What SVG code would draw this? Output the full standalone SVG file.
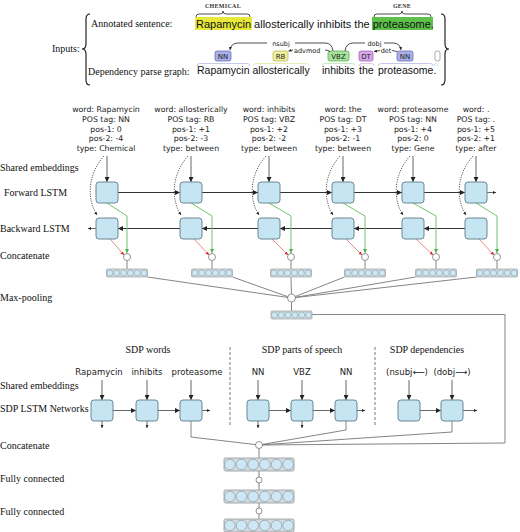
<svg xmlns="http://www.w3.org/2000/svg" xmlns:xlink="http://www.w3.org/1999/xlink" width="520" height="532" viewBox="0 0 520 532">
<style>
.lbl{font-family:"Liberation Serif","DejaVu Serif",serif;font-size:10px;fill:#111}
.feat{font-family:"DejaVu Sans",sans-serif;font-size:7.8px;fill:#222;text-anchor:middle}
.sent{font-family:"Liberation Sans",Arial,sans-serif;font-size:11px;fill:#111}
.arc{font-family:"DejaVu Sans",sans-serif;font-size:6.5px;fill:#222}
.tag{font-family:"DejaVu Sans",sans-serif;font-size:7px;fill:#222;text-anchor:middle}
.ent{font-family:"Liberation Serif",serif;font-size:6px;font-weight:bold;fill:#333;text-anchor:middle;letter-spacing:0.3px}
.sdpw{font-family:"DejaVu Sans",sans-serif;font-size:8.5px;fill:#222;text-anchor:middle}
.box{fill:#c4e5f1;stroke:#6b8794;stroke-width:1}
.ln{stroke:#333;stroke-width:1.2;fill:none}
.thin{stroke:#555;stroke-width:0.9;fill:none}
.gl{stroke:#777;stroke-width:0.9;fill:none}
.dot{stroke:#333;stroke-width:0.8;fill:none;stroke-dasharray:1.2 1.2}
.gr{stroke:#6cc46c;stroke-width:1;fill:none}
.rd{stroke:#e0706a;stroke-width:0.8;fill:none}
.cc{fill:#fff;stroke:#777;stroke-width:0.8}
.brace{stroke:#111;stroke-width:1.1;fill:none}
.sep{stroke:#555;stroke-width:0.8;stroke-dasharray:3 2;fill:none}
.arcl{stroke:#222;stroke-width:0.8;fill:none}
</style>
<defs>
<marker id="ab" viewBox="0 0 8 8" refX="8" refY="4" markerWidth="5" markerHeight="5" markerUnits="userSpaceOnUse" orient="auto"><path d="M0,0 L8,4 L0,8 z" fill="#222"/></marker>
<marker id="as" viewBox="0 0 8 8" refX="8" refY="4" markerWidth="3" markerHeight="3" markerUnits="userSpaceOnUse" orient="auto"><path d="M0,0 L8,4 L0,8 z" fill="#222"/></marker>
<marker id="ag" viewBox="0 0 8 8" refX="8" refY="4" markerWidth="4.5" markerHeight="4.5" markerUnits="userSpaceOnUse" orient="auto"><path d="M0,0 L8,4 L0,8 z" fill="#4caf4c"/></marker>
<marker id="ar" viewBox="0 0 8 8" refX="8" refY="4" markerWidth="3.5" markerHeight="3.5" markerUnits="userSpaceOnUse" orient="auto"><path d="M0,0 L8,4 L0,8 z" fill="#d42a2a"/></marker>
<g id="vs"><rect x="0" y="0" width="41" height="8" rx="1" fill="#d6dadc" stroke="#9aa4a8" stroke-width="0.7"/><g fill="#cde8f4" stroke="#8fa3ad" stroke-width="0.6"><circle cx="3.42" cy="4" r="3"/><circle cx="10.25" cy="4" r="3"/><circle cx="17.08" cy="4" r="3"/><circle cx="23.92" cy="4" r="3"/><circle cx="30.75" cy="4" r="3"/><circle cx="37.58" cy="4" r="3"/></g></g>
<g id="vl"><rect x="0" y="0" width="70" height="13" rx="1.5" fill="#d6dadc" stroke="#8f9a9e" stroke-width="0.8"/><g fill="#cde8f4" stroke="#8a9aa3" stroke-width="0.7"><circle cx="5.83" cy="6.5" r="5.3"/><circle cx="17.5" cy="6.5" r="5.3"/><circle cx="29.17" cy="6.5" r="5.3"/><circle cx="40.83" cy="6.5" r="5.3"/><circle cx="52.5" cy="6.5" r="5.3"/><circle cx="64.17" cy="6.5" r="5.3"/></g></g>
</defs>

<g id="inputs">
<text class="lbl" x="52" y="52">Inputs:</text>
<path class="brace" d="M90,14 Q86,14 86,19 L86,44 Q86,49 82,49 Q86,49 86,54 L86,80 Q86,85 90,85"/>
<path class="brace" d="M441,14 Q445,14 445,19 L445,44 Q445,49 449,49 Q445,49 445,54 L445,80 Q445,85 441,85"/>
<text class="lbl" x="91" y="27">Annotated sentence:</text>
<text class="lbl" x="88" y="75">Dependency parse graph:</text>
</g>

<g id="annotated">
<rect x="195" y="17" width="57" height="13" fill="#e8e83a"/>
<rect x="372" y="17" width="61" height="13" fill="#5cc04a"/>
<text class="ent" x="223" y="8">CHEMICAL</text>
<text class="ent" x="402" y="8">GENE</text>
<path class="arcl" d="M196,17 Q196,14 199,14 L220,14 Q223,14 223,11 Q223,14 226,14 L247,14 Q250,14 250,17"/>
<path class="arcl" d="M374,17 Q374,14 377,14 L399,14 Q402,14 402,11 Q402,14 405,14 L428,14 Q431,14 431,17"/>
<text class="sent" x="196" y="27.5">Rapamycin allosterically inhibits the proteasome.</text>
</g>

<g id="parse">
<rect x="215" y="51" width="16" height="10" rx="2" fill="#aab0ea" stroke="#5d63aa" stroke-width="0.7"/>
<text class="tag" x="223" y="58.5">NN</text>
<rect x="273" y="51" width="15" height="10" rx="2" fill="#f0f09c" stroke="#b3b356" stroke-width="0.7"/>
<text class="tag" x="280.5" y="58.5">RB</text>
<rect x="328" y="51" width="21" height="10" rx="2" fill="#a6e39a" stroke="#5aa050" stroke-width="0.7"/>
<text class="tag" x="338.5" y="58.5">VBZ</text>
<rect x="359" y="51" width="14" height="10" rx="2" fill="#d6a6e8" stroke="#9656ae" stroke-width="0.7"/>
<text class="tag" x="366" y="58.5">DT</text>
<rect x="397" y="51" width="16" height="10" rx="2" fill="#aab0ea" stroke="#5d63aa" stroke-width="0.7"/>
<text class="tag" x="405" y="58.5">NN</text>
<rect x="435" y="51" width="5" height="10" rx="2" fill="#fff" stroke="#888" stroke-width="0.7"/>
<g fill="none" stroke-width="0.8">
<path stroke="#b8bce6" d="M197,66 Q197,63.5 200,63.5 L247,63.5 Q250,63.5 250,66"/>
<path stroke="#e6e6a6" d="M253,66 Q253,63.5 256,63.5 L306,63.5 Q309,63.5 309,66"/>
<path stroke="#b5e6ab" d="M322,66 Q322,63.5 325,63.5 L352,63.5 Q355,63.5 355,66"/>
<path stroke="#dcb8e8" d="M359,66 Q359,63.5 362,63.5 L371,63.5 Q374,63.5 374,66"/>
<path stroke="#b8bce6" d="M378,66 Q378,63.5 381,63.5 L430,63.5 Q433,63.5 433,66"/>
<path stroke="#cccccc" d="M434,66 Q434,63.5 436,63.5 Q438,63.5 438,66"/>
</g>
<path class="arcl" d="M333,51 Q332,43 325,43 L295,43"/>
<path class="arcl" d="M267,43 L238,43 Q231,43 230,50" marker-end="url(#as)"/>
<text class="arc" x="281" y="45.5" text-anchor="middle">nsubj</text>
<path class="arcl" d="M293,50 L288.5,51" marker-end="url(#as)"/>
<text class="arc" x="294" y="52.5">advmod</text>
<path class="arcl" d="M325,50 Q329,50 330,52"/>
<path class="arcl" d="M345,51 Q346,43 353,43 L365,43"/>
<path class="arcl" d="M384,43 L393,43 Q400,43 401,50" marker-end="url(#as)"/>
<text class="arc" x="374.5" y="45.5" text-anchor="middle">dobj</text>
<path class="arcl" d="M380,50.5 L374,51.5" marker-end="url(#as)"/>
<text class="arc" x="386" y="52.5" text-anchor="middle">det</text>
<path class="arcl" d="M392,50.5 L397,51.5"/>
<g class="sent" style="font-size:10.5px">
<text x="197" y="74">Rapamycin</text>
<text x="252.5" y="74">allosterically</text>
<text x="322" y="74">inhibits</text>
<text x="359" y="74">the</text>
<text x="378" y="74">proteasome.</text>
</g>
</g>

<g id="labels">
<text class="lbl" x="0" y="171">Shared embeddings</text>
<text class="lbl" x="4" y="196">Forward LSTM</text>
<text class="lbl" x="0" y="232">Backward LSTM</text>
<text class="lbl" x="0" y="259">Concatenate</text>
<text class="lbl" x="0" y="301">Max-pooling</text>
<text class="lbl" x="0" y="389">Shared embeddings</text>
<text class="lbl" x="0" y="412">SDP LSTM Networks</text>
<text class="lbl" x="0" y="449">Concatenate</text>
<text class="lbl" x="0" y="482">Fully connected</text>
<text class="lbl" x="0" y="515">Fully connected</text>
</g>

<g id="features">
<text class="feat" x="106" y="112">word: Rapamycin</text><text class="feat" x="106" y="121.8">POS tag: NN</text><text class="feat" x="106" y="131.6">pos-1: 0</text><text class="feat" x="106" y="141.4">pos-2: -4</text><text class="feat" x="106" y="151.2">type: Chemical</text>
<text class="feat" x="191" y="112">word: allosterically</text><text class="feat" x="191" y="121.8">POS tag: RB</text><text class="feat" x="191" y="131.6">pos-1: +1</text><text class="feat" x="191" y="141.4">pos-2: -3</text><text class="feat" x="191" y="151.2">type: between</text>
<text class="feat" x="269" y="112">word: inhibits</text><text class="feat" x="269" y="121.8">POS tag: VBZ</text><text class="feat" x="269" y="131.6">pos-1: +2</text><text class="feat" x="269" y="141.4">pos-2: -2</text><text class="feat" x="269" y="151.2">type: between</text>
<text class="feat" x="343" y="112">word: the</text><text class="feat" x="343" y="121.8">POS tag: DT</text><text class="feat" x="343" y="131.6">pos-1: +3</text><text class="feat" x="343" y="141.4">pos-2: -1</text><text class="feat" x="343" y="151.2">type: between</text>
<text class="feat" x="413" y="112">word: proteasome</text><text class="feat" x="413" y="121.8">POS tag: NN</text><text class="feat" x="413" y="131.6">pos-1: +4</text><text class="feat" x="413" y="141.4">pos-2: 0</text><text class="feat" x="413" y="151.2">type: Gene</text>
<text class="feat" x="476" y="112">word: .</text><text class="feat" x="476" y="121.8">POS tag: .</text><text class="feat" x="476" y="131.6">pos-1: +5</text><text class="feat" x="476" y="141.4">pos-2: +1</text><text class="feat" x="476" y="151.2">type: after</text>
</g>

<g id="connectors">
<!-- embedding arrows -->
<g class="thin">
<path d="M107,156 V182" marker-end="url(#ab)"/>
<path d="M191,156 V182" marker-end="url(#ab)"/>
<path d="M269,156 V182" marker-end="url(#ab)"/>
<path d="M343,156 V182" marker-end="url(#ab)"/>
<path d="M413,156 V182" marker-end="url(#ab)"/>
<path d="M476,156 V182" marker-end="url(#ab)"/>
</g>
<g class="dot">
<path d="M104,156 C87,175 87,200 97,215" marker-end="url(#as)"/>
<path d="M188,156 C171,175 171,200 181,215" marker-end="url(#as)"/>
<path d="M266,156 C249,175 249,200 259,215" marker-end="url(#as)"/>
<path d="M340,156 C323,175 323,200 333,215" marker-end="url(#as)"/>
<path d="M410,156 C393,175 393,200 403,215" marker-end="url(#as)"/>
<path d="M473,156 C456,175 456,200 466,215" marker-end="url(#as)"/>
</g>
<!-- forward -->
<g class="ln">
<path d="M118,192.5 H180" marker-end="url(#ab)"/>
<path d="M202,192.5 H258" marker-end="url(#ab)"/>
<path d="M280,192.5 H332" marker-end="url(#ab)"/>
<path d="M354,192.5 H402" marker-end="url(#ab)"/>
<path d="M424,192.5 H465" marker-end="url(#ab)"/>
<path d="M465,228.5 H424" marker-end="url(#ab)"/>
<path d="M402,228.5 H354" marker-end="url(#ab)"/>
<path d="M332,228.5 H280" marker-end="url(#ab)"/>
<path d="M258,228.5 H202" marker-end="url(#ab)"/>
<path d="M180,228.5 H118" marker-end="url(#ab)"/>
</g>
<g class="thin">
<path d="M487,192.5 H496" marker-end="url(#as)"/>
<path d="M96,228.5 H88" marker-end="url(#as)"/>
</g>
<!-- green forward to concat -->
<g class="gr">
<path d="M107,203 L127,216 V253" marker-end="url(#ag)"/>
<path d="M191,203 L212,216 V253" marker-end="url(#ag)"/>
<path d="M269,203 L291,216 V253" marker-end="url(#ag)"/>
<path d="M343,203 L365,216 V253" marker-end="url(#ag)"/>
<path d="M413,203 L436,216 V253" marker-end="url(#ag)"/>
<path d="M476,203 L497,216 V253" marker-end="url(#ag)"/>
</g>
<g class="rd">
<path d="M110,239 L124,255" marker-end="url(#ar)"/>
<path d="M194,239 L209,255" marker-end="url(#ar)"/>
<path d="M272,239 L288,255" marker-end="url(#ar)"/>
<path d="M346,239 L362,255" marker-end="url(#ar)"/>
<path d="M416,239 L433,255" marker-end="url(#ar)"/>
<path d="M479,239 L494,255" marker-end="url(#ar)"/>
</g>
<!-- concat to vectors -->
<g class="gl">
<path d="M127,260.5 V269"/><path d="M212,260.5 V269"/><path d="M291,260.5 V269"/><path d="M365,260.5 V269"/><path d="M436,260.5 V269"/><path d="M497,260.5 V269"/>
<!-- to max pool -->
<path d="M147.5,277 L291.5,298"/>
<path d="M232.5,277 L291.5,298"/>
<path d="M291,277 L291.5,298"/>
<path d="M344.5,277 L291.5,298"/>
<path d="M415.5,277 L291.5,298"/>
<path d="M476.5,277 L291.5,298"/>
<path d="M291.5,302 V311"/>
<path d="M312,314.5 H505 V443 L259,445"/>
<!-- SDP to concat -->
<path d="M191,421 V437 L259,445"/>
<path d="M346,421 V430 L259,445"/>
<path d="M452,421 V432 L259,445"/>
<path d="M259,448.5 V458"/><path d="M259,471 V477"/><path d="M259,483 V490"/><path d="M259,503 V508"/><path d="M259,514 V519"/>
</g>
<!-- SDP arrows -->
<g class="thin">
<path d="M102,380 V400" marker-end="url(#ab)"/>
<path d="M147,380 V400" marker-end="url(#ab)"/>
<path d="M191,380 V400" marker-end="url(#ab)"/>
<path d="M258,380 V400" marker-end="url(#ab)"/>
<path d="M302,380 V400" marker-end="url(#ab)"/>
<path d="M346,380 V400" marker-end="url(#ab)"/>
<path d="M409,380 V400" marker-end="url(#ab)"/>
<path d="M452,380 V400" marker-end="url(#ab)"/>
<path d="M113,410.5 H136" marker-end="url(#ab)"/>
<path d="M158,410.5 H180" marker-end="url(#ab)"/>
<path d="M269,410.5 H291" marker-end="url(#ab)"/>
<path d="M313,410.5 H335" marker-end="url(#ab)"/>
<path d="M420,410.5 H441" marker-end="url(#ab)"/>
<path d="M202,410.5 H210" marker-end="url(#as)"/>
<path d="M357,410.5 H365" marker-end="url(#as)"/>
<path d="M463,410.5 H477" marker-end="url(#as)"/>
<path d="M102,421 V428" marker-end="url(#as)"/>
<path d="M147,421 V428" marker-end="url(#as)"/>
<path d="M258,421 V428" marker-end="url(#as)"/>
<path d="M302,421 V428" marker-end="url(#as)"/>
</g>
<path class="sep" d="M230,347 V425"/>
<path class="sep" d="M375,347 V425"/>
</g>

<g id="lstm">
<rect class="box" x="96" y="182" width="22" height="21" rx="3"/>
<rect class="box" x="180" y="182" width="22" height="21" rx="3"/>
<rect class="box" x="258" y="182" width="22" height="21" rx="3"/>
<rect class="box" x="332" y="182" width="22" height="21" rx="3"/>
<rect class="box" x="402" y="182" width="22" height="21" rx="3"/>
<rect class="box" x="465" y="182" width="22" height="21" rx="3"/>
<rect class="box" x="96" y="218" width="22" height="21" rx="3"/>
<rect class="box" x="180" y="218" width="22" height="21" rx="3"/>
<rect class="box" x="258" y="218" width="22" height="21" rx="3"/>
<rect class="box" x="332" y="218" width="22" height="21" rx="3"/>
<rect class="box" x="402" y="218" width="22" height="21" rx="3"/>
<rect class="box" x="465" y="218" width="22" height="21" rx="3"/>
</g>

<g id="concat">
<circle class="cc" cx="127" cy="257" r="3.5"/><circle class="cc" cx="212" cy="257" r="3.5"/><circle class="cc" cx="291" cy="257" r="3.5"/><circle class="cc" cx="365" cy="257" r="3.5"/><circle class="cc" cx="436" cy="257" r="3.5"/><circle class="cc" cx="497" cy="257" r="3.5"/>
<use xlink:href="#vs" x="106.5" y="269"/><use xlink:href="#vs" x="191.5" y="269"/><use xlink:href="#vs" x="270.5" y="269"/><use xlink:href="#vs" x="344.5" y="269"/><use xlink:href="#vs" x="415.5" y="269"/><use xlink:href="#vs" x="476.5" y="269"/>
</g>

<g id="maxpool">
<circle class="cc" cx="291.5" cy="298" r="4"/>
<use xlink:href="#vs" x="271" y="311"/>
</g>

<g id="sdp">
<text class="lbl" x="148" y="353" text-anchor="middle">SDP words</text>
<text class="lbl" x="302" y="353" text-anchor="middle">SDP parts of speech</text>
<text class="lbl" x="427" y="353" text-anchor="middle">SDP dependencies</text>
<text class="sdpw" x="99" y="375">Rapamycin</text>
<text class="sdpw" x="147" y="375">inhibits</text>
<text class="sdpw" x="197" y="375">proteasome</text>
<text class="sdpw" x="258" y="375">NN</text>
<text class="sdpw" x="302" y="375">VBZ</text>
<text class="sdpw" x="346" y="375">NN</text>
<text class="sdpw" x="407" y="375">(nsubj⟵)</text>
<text class="sdpw" x="452" y="375">(dobj⟶)</text>
<rect class="box" x="91" y="400" width="22" height="21" rx="3"/>
<rect class="box" x="136" y="400" width="22" height="21" rx="3"/>
<rect class="box" x="180" y="400" width="22" height="21" rx="3"/>
<rect class="box" x="247" y="400" width="22" height="21" rx="3"/>
<rect class="box" x="291" y="400" width="22" height="21" rx="3"/>
<rect class="box" x="335" y="400" width="22" height="21" rx="3"/>
<rect class="box" x="398" y="400" width="22" height="21" rx="3"/>
<rect class="box" x="441" y="400" width="22" height="21" rx="3"/>
</g>

<g id="output">
<circle class="cc" cx="259" cy="445" r="3.5"/>
<use xlink:href="#vl" x="224" y="458"/>
<circle class="cc" cx="259" cy="480" r="3"/>
<use xlink:href="#vl" x="224" y="490"/>
<circle class="cc" cx="259" cy="511" r="3"/>
<use xlink:href="#vl" x="224" y="519"/>
</g>
</svg>
